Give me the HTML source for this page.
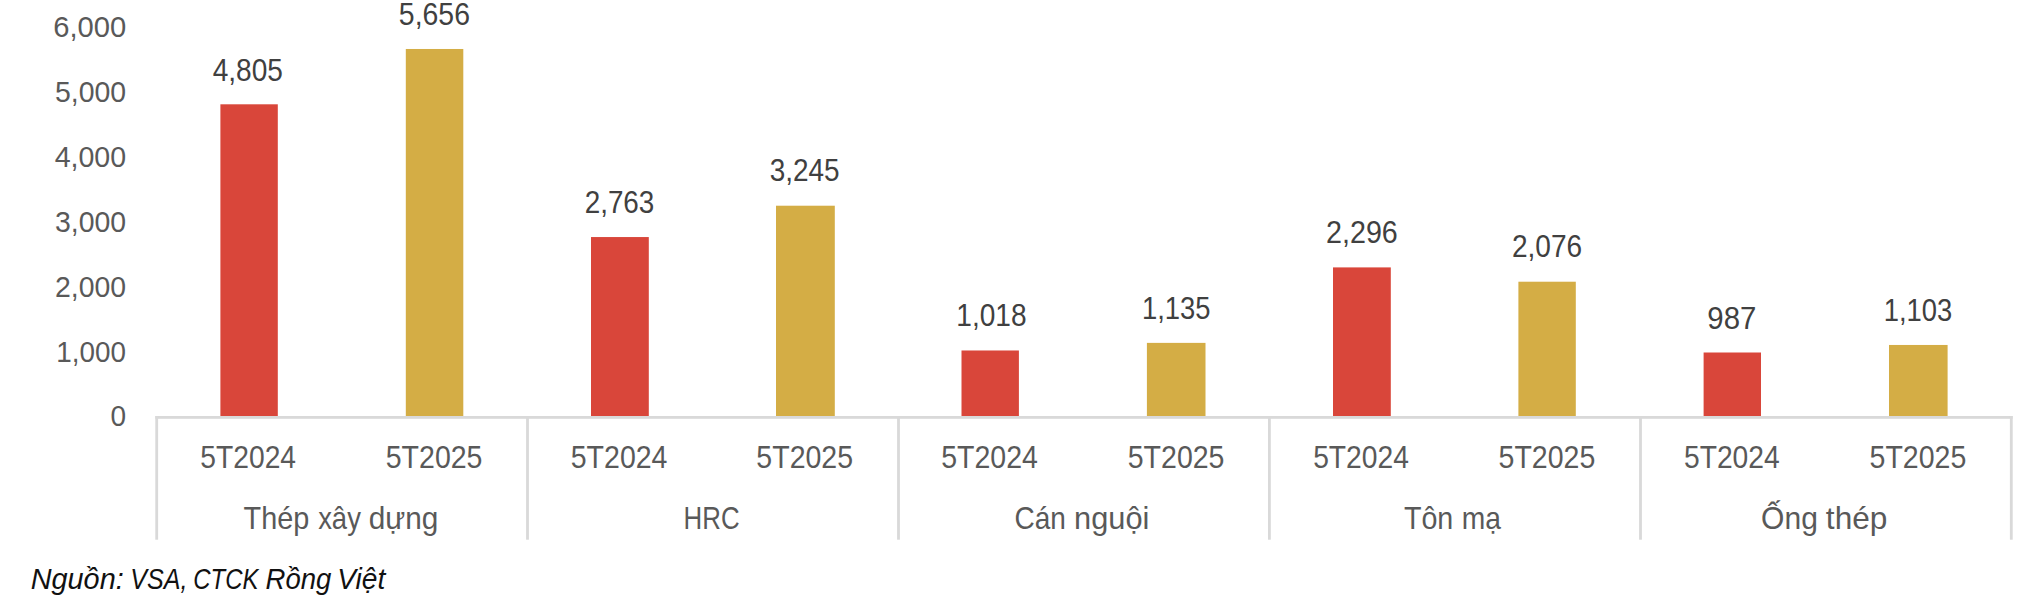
<!DOCTYPE html><html><head><meta charset="utf-8"><style>html,body{margin:0;padding:0;background:#fff;overflow:hidden;}svg{display:block;}text{font-family:"Liberation Sans",sans-serif;}</style></head><body>
<svg width="2035" height="612" viewBox="0 0 2035 612">
<rect width="2035" height="612" fill="#fff"/>
<rect x="220.40" y="104.30" width="57.40" height="313.36" fill="#D9463A"/>
<rect x="405.80" y="48.98" width="57.50" height="368.68" fill="#D4AD45"/>
<rect x="591.00" y="237.05" width="57.80" height="180.61" fill="#D9463A"/>
<rect x="776.00" y="205.71" width="58.80" height="211.95" fill="#D4AD45"/>
<rect x="961.50" y="350.48" width="57.40" height="67.18" fill="#D9463A"/>
<rect x="1146.90" y="342.88" width="58.60" height="74.78" fill="#D4AD45"/>
<rect x="1333.00" y="267.40" width="57.80" height="150.26" fill="#D9463A"/>
<rect x="1518.40" y="281.71" width="57.40" height="135.95" fill="#D4AD45"/>
<rect x="1703.60" y="352.50" width="57.40" height="65.16" fill="#D9463A"/>
<rect x="1889.00" y="344.96" width="58.60" height="72.70" fill="#D4AD45"/>
<rect x="155.3" y="416" width="1857.4" height="2.8" fill="#D9D9D9"/>
<rect x="155.30" y="416" width="2.8" height="123.7" fill="#D9D9D9"/>
<rect x="526.10" y="416" width="2.8" height="123.7" fill="#D9D9D9"/>
<rect x="897.10" y="416" width="2.8" height="123.7" fill="#D9D9D9"/>
<rect x="1268.00" y="416" width="2.8" height="123.7" fill="#D9D9D9"/>
<rect x="1639.10" y="416" width="2.8" height="123.7" fill="#D9D9D9"/>
<rect x="2009.90" y="416" width="2.8" height="123.7" fill="#D9D9D9"/>
<text transform="translate(118.40,425.90) scale(0.9348,1)" font-size="30" fill="#595959" text-anchor="middle">0</text>
<text transform="translate(91.10,361.90) scale(0.9285,1)" font-size="30" fill="#595959" text-anchor="middle">1,000</text>
<text transform="translate(90.50,296.92) scale(0.9479,1)" font-size="30" fill="#595959" text-anchor="middle">2,000</text>
<text transform="translate(90.50,231.94) scale(0.9483,1)" font-size="30" fill="#595959" text-anchor="middle">3,000</text>
<text transform="translate(90.40,166.96) scale(0.9531,1)" font-size="30" fill="#595959" text-anchor="middle">4,000</text>
<text transform="translate(90.50,101.98) scale(0.9483,1)" font-size="30" fill="#595959" text-anchor="middle">5,000</text>
<text transform="translate(89.80,37.00) scale(0.9735,1)" font-size="30" fill="#595959" text-anchor="middle">6,000</text>
<text transform="translate(247.80,80.60) scale(0.9049,1)" font-size="31" fill="#404040" text-anchor="middle">4,805</text>
<text transform="translate(434.40,24.70) scale(0.9175,1)" font-size="31" fill="#404040" text-anchor="middle">5,656</text>
<text transform="translate(619.50,213.20) scale(0.8981,1)" font-size="31" fill="#404040" text-anchor="middle">2,763</text>
<text transform="translate(804.60,181.20) scale(0.9018,1)" font-size="31" fill="#404040" text-anchor="middle">3,245</text>
<text transform="translate(991.40,326.30) scale(0.9055,1)" font-size="31" fill="#404040" text-anchor="middle">1,018</text>
<text transform="translate(1176.20,319.20) scale(0.8842,1)" font-size="31" fill="#404040" text-anchor="middle">1,135</text>
<text transform="translate(1361.90,242.80) scale(0.9260,1)" font-size="31" fill="#404040" text-anchor="middle">2,296</text>
<text transform="translate(1547.00,257.00) scale(0.9050,1)" font-size="31" fill="#404040" text-anchor="middle">2,076</text>
<text transform="translate(1731.80,328.50) scale(0.9479,1)" font-size="31" fill="#404040" text-anchor="middle">987</text>
<text transform="translate(1918.00,320.90) scale(0.8834,1)" font-size="31" fill="#404040" text-anchor="middle">1,103</text>
<text transform="translate(248.20,467.70) scale(0.9254,1)" font-size="30.5" fill="#595959" text-anchor="middle">5T2024</text>
<text transform="translate(434.10,467.70) scale(0.9355,1)" font-size="30.5" fill="#595959" text-anchor="middle">5T2025</text>
<text transform="translate(619.10,467.70) scale(0.9352,1)" font-size="30.5" fill="#595959" text-anchor="middle">5T2024</text>
<text transform="translate(804.70,467.70) scale(0.9352,1)" font-size="30.5" fill="#595959" text-anchor="middle">5T2025</text>
<text transform="translate(989.50,467.70) scale(0.9353,1)" font-size="30.5" fill="#595959" text-anchor="middle">5T2024</text>
<text transform="translate(1176.10,467.70) scale(0.9353,1)" font-size="30.5" fill="#595959" text-anchor="middle">5T2025</text>
<text transform="translate(1361.00,467.70) scale(0.9254,1)" font-size="30.5" fill="#595959" text-anchor="middle">5T2024</text>
<text transform="translate(1546.90,467.70) scale(0.9354,1)" font-size="30.5" fill="#595959" text-anchor="middle">5T2025</text>
<text transform="translate(1731.80,467.70) scale(0.9254,1)" font-size="30.5" fill="#595959" text-anchor="middle">5T2024</text>
<text transform="translate(1917.90,467.70) scale(0.9355,1)" font-size="30.5" fill="#595959" text-anchor="middle">5T2025</text>
<text transform="translate(276.40,529.10) scale(0.9448,1)" font-size="30.5" fill="#595959" text-anchor="middle">Thép</text>
<text transform="translate(339.50,529.10) scale(0.9006,1)" font-size="30.5" fill="#595959" text-anchor="middle">xây</text>
<text transform="translate(403.50,529.10) scale(0.9767,1)" font-size="30.5" fill="#595959" text-anchor="middle">dựng</text>
<text transform="translate(711.60,529.10) scale(0.8475,1)" font-size="30.5" fill="#595959" text-anchor="middle">HRC</text>
<text transform="translate(1040.20,529.10) scale(0.9188,1)" font-size="30.5" fill="#595959" text-anchor="middle">Cán</text>
<text transform="translate(1111.70,529.10) scale(1.0090,1)" font-size="30.5" fill="#595959" text-anchor="middle">nguội</text>
<text transform="translate(1428.60,529.10) scale(0.9402,1)" font-size="30.5" fill="#595959" text-anchor="middle">Tôn</text>
<text transform="translate(1481.40,529.10) scale(0.9256,1)" font-size="30.5" fill="#595959" text-anchor="middle">mạ</text>
<text transform="translate(1789.50,529.10) scale(0.9850,1)" font-size="30.5" fill="#595959" text-anchor="middle">Ống</text>
<text transform="translate(1856.60,529.10) scale(1.0358,1)" font-size="30.5" fill="#595959" text-anchor="middle">thép</text>
<text transform="translate(77.20,589.00) scale(0.9951,1)" font-size="29" fill="#111" text-anchor="middle" font-style="italic">Nguồn:</text>
<text transform="translate(158.85,589.00) scale(0.8654,1)" font-size="29" fill="#111" text-anchor="middle" font-style="italic">VSA,</text>
<text transform="translate(225.80,589.00) scale(0.8260,1)" font-size="29" fill="#111" text-anchor="middle" font-style="italic">CTCK</text>
<text transform="translate(298.50,589.00) scale(0.9491,1)" font-size="29" fill="#111" text-anchor="middle" font-style="italic">Rồng</text>
<text transform="translate(361.30,589.00) scale(0.9718,1)" font-size="29" fill="#111" text-anchor="middle" font-style="italic">Việt</text>
</svg></body></html>
